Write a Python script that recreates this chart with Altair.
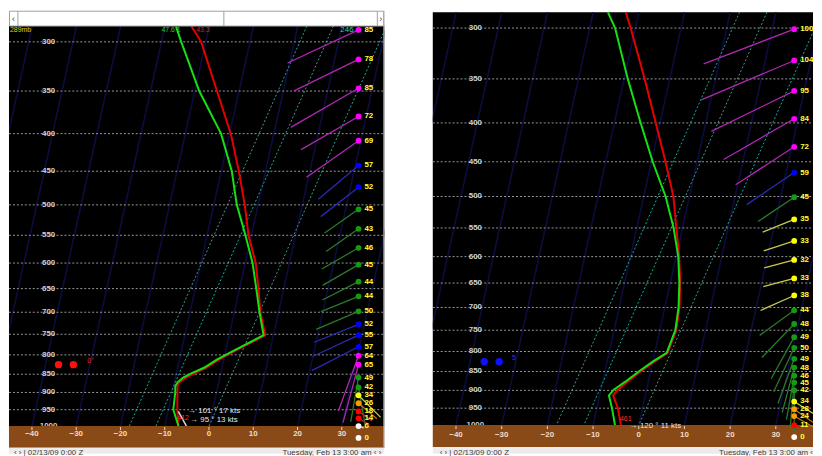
import altair as alt
import pandas as pd

# ---------------- values ----------------
# Left sounding: temperature (red) and dewpoint (green), deg C, at pressure (hPa)
P_PROF_L = [286, 300, 350, 400, 450, 500, 550, 600, 650, 700, 752, 773, 792, 812, 833, 848, 859, 872, 883, 900, 950, 1000]
T_RED_L = [-44.0, -40.3, -31.8, -24.4, -18.8, -14.1, -10.2, -5.8, -2.6, 0.2, 3.6, 0.7, -1.9, -4.4, -6.5, -8.6, -10.0, -11.1, -11.1, -10.5, -8.8, -6.9]
T_GRN_L = [-47.5, -44.8, -35.8, -26.6, -20.4, -15.9, -10.9, -6.5, -3.1, 0.0, 3.2, 0.3, -2.3, -4.9, -7.0, -9.3, -10.7, -11.5, -11.6, -11.0, -9.7, -6.9]
P_PARCEL_L = [955, 1000]
T_PARCEL_L = [-8.4, -5.1]

# Right sounding
P_PROF_R = [286, 300, 350, 400, 450, 500, 550, 600, 650, 700, 750, 803, 825, 850, 876, 898, 914, 950, 1000]
T_RED_R = [-42.9, -40.3, -32.3, -25.6, -19.7, -14.6, -10.9, -7.5, -4.7, -2.5, -1.0, -0.7, -2.7, -4.8, -6.6, -8.0, -8.5, -6.2, -3.9]
T_GRN_R = [-46.8, -43.7, -36.0, -28.9, -22.5, -16.3, -11.5, -7.7, -4.9, -2.7, -1.2, -0.9, -3.1, -5.2, -7.1, -8.9, -9.4, -7.5, -5.2]

# Wind column (pressure hPa, speed kt, direction deg)
P_WIND_L = [289, 317, 347, 379, 409, 442, 473, 507, 539, 572, 603, 636, 666, 698, 727, 752, 780, 802, 825, 859, 886, 908, 931, 955, 976, 1000, 1038]
SPD_L = [85, 78, 85, 72, 69, 57, 52, 45, 43, 46, 45, 44, 44, 50, 52, 55, 57, 64, 65, 49, 42, 34, 26, 18, 14, 6, 0]
DIR_L = [245, 244, 240, 240, 235, 230, 232, 235, 235, 240, 240, 243, 248, 247, 248, 245, 243, 200, 195, 190, 170, 135, 130, 125, 120, 110, 0]

P_WIND_R = [301, 331, 363, 395, 430, 465, 501, 536, 572, 606, 641, 675, 706, 736, 766, 791, 818, 840, 861, 879, 900, 931, 953, 973, 1000, 1037]
SPD_R = [100, 104, 95, 84, 72, 59, 45, 35, 33, 32, 33, 38, 44, 48, 49, 50, 49, 48, 46, 45, 42, 34, 28, 24, 11, 0]
DIR_R = [249, 247, 244, 240, 237, 236, 236, 248, 252, 255, 255, 246, 234, 224, 209, 205, 200, 195, 190, 185, 180, 122, 125, 120, 110, 0]

P_LEVELS = [300, 350, 400, 450, 500, 550, 600, 650, 700, 750, 800, 850, 900, 950, 1000]
T_TICKS = [-40, -30, -20, -10, 0, 10, 20, 30]
T_HILITE = [-18, -12, 0]
T_BGLINES = [-80, -70, -60, -50, -40, -30, -20, -10, 0, 10, 20, 30]

# ---------------- styling ----------------
FONT = "Liberation Sans"
S_ISO = 32.0
S_BG = 16.0
H = 448
NAVY = "#0d0d44"
TEAL = "#22a89c"
GRID = "#9a9a9a"
BROWN = "#8a4a18"
RED = "#e80000"
GREEN = "#14e014"
DOT_COLORS = ["#ffffff", "#ff0000", "#ff9900", "#ffff00", "#139c13", "#0000ff", "#ff00ff"]
LINE_COLORS = ["#d0d0d0", "#c02020", "#c07020", "#c8c850", "#2a7a2a", "#2a2ab4", "#b028b0"]
THRESH = [10, 20, 30, 40, 51, 60]
ONE = alt.Data(values=[{"a": 1}])


def note(txt, x, y, color, size=8, align="left", weight="normal", baseline="middle"):
    return alt.Chart(ONE).mark_text(text=txt, align=align, baseline=baseline, color=color,
                                    fontSize=size, font=FONT, fontWeight=weight).encode(
        x=alt.value(x), y=alt.value(y))


def dot(x, y, color, size=55):
    return alt.Chart(ONE).mark_circle(size=size, color=color, opacity=1).encode(
        x=alt.value(x), y=alt.value(y))


def build(cfg, prof_p, red, grn, wp, ws, wd, extra):
    W = cfg["W"]
    ysc = alt.Scale(type="log", domain=[cfg["p_top"], cfg["p_bot"]], reverse=True, nice=False)
    xsc = alt.Scale(domain=cfg["xdom"], nice=False, zero=False)

    def X(f):
        return alt.X(f, type="quantitative", scale=xsc, axis=None)

    def Y(f):
        return alt.Y(f, type="quantitative", scale=ysc, axis=None)

    layers = []
    # black plotting area
    layers.append(alt.Chart(pd.DataFrame({"a": [cfg["p_black"]], "b": [1000.0]})).mark_rect(color="black").encode(
        x=alt.value(0), x2=alt.value(W), y=Y("a"), y2=alt.Y2("b")))
    # slanted background lines
    rows = [{"t0": t, "p": p} for t in T_BGLINES for p in (cfg["p_black"], 1000.0)]
    layers.append(alt.Chart(pd.DataFrame(rows)).transform_calculate(
        xs=f"datum.t0 + {S_BG}*log(1000/datum.p)").mark_line(color=NAVY, strokeWidth=1.5, clip=True).encode(
        x=X("xs"), y=Y("p"), detail="t0:N", order="p:Q"))
    # highlighted isotherms (dotted)
    rows = [{"t0": t, "p": p} for t in T_HILITE for p in (cfg["p_black"], 1000.0)]
    layers.append(alt.Chart(pd.DataFrame(rows)).transform_calculate(
        xs=f"datum.t0 + {S_ISO}*log(1000/datum.p)").mark_line(color=TEAL, strokeWidth=1, strokeDash=[2, 2], clip=True).encode(
        x=X("xs"), y=Y("p"), detail="t0:N", order="p:Q"))
    # pressure grid
    layers.append(alt.Chart(pd.DataFrame({"p": P_LEVELS[:-1]})).mark_rule(color=GRID, strokeDash=[2, 2], strokeWidth=1).encode(
        x=alt.value(0), x2=alt.value(W), y=Y("p")))
    # pressure labels
    layers.append(alt.Chart(pd.DataFrame({"p": P_LEVELS})).mark_text(color="#cfcfcf", fontSize=8, fontWeight="bold", font=FONT, baseline="middle").encode(
        x=alt.value(cfg["lab_x"]), y=Y("p"), text="p:Q"))

    # profiles
    def prof(p, T, color, width=2):
        return alt.Chart(pd.DataFrame({"p": p, "T": T})).transform_calculate(
            xs=f"datum.T + {S_ISO}*log(1000/datum.p)").mark_line(color=color, strokeWidth=width, clip=True).encode(
            x=X("xs"), y=Y("p"), order="p:Q")
    layers.append(prof(prof_p, red, RED))
    layers.append(prof(prof_p, grn, GREEN))
    if cfg.get("parcel"):
        layers.append(prof(cfg["parcel"][0], cfg["parcel"][1], "#d8d8d8", 1.5))

    # ground band and status bar
    layers.append(alt.Chart(pd.DataFrame({"a": [1000.0], "b": [cfg["p_band"]]})).mark_rect(color=BROWN).encode(
        x=alt.value(0), x2=alt.value(W), y=Y("a"), y2=alt.Y2("b")))
    layers.append(alt.Chart(pd.DataFrame({"a": [cfg["p_band"]], "b": [cfg["p_bot"]]})).mark_rect(color="#ececec").encode(
        x=alt.value(0), x2=alt.value(W), y=Y("a"), y2=alt.Y2("b")))
    # temperature labels inside the ground band
    tdf = pd.DataFrame({"t": T_TICKS})
    layers.append(alt.Chart(tdf).mark_rule(color="#f0d8c0", strokeWidth=1).encode(
        x=X("t"), y=alt.value(cfg["tick_y"]), y2=alt.value(cfg["tick_y"] + 3)))
    layers.append(alt.Chart(tdf).mark_text(color="#f2dcc6", fontSize=8, fontWeight="bold", font=FONT, baseline="middle").encode(
        x=X("t"), y=alt.value(cfg["tlab_y"]), text="t:Q"))

    # wind column
    wdf = pd.DataFrame({"p": wp, "spd": ws, "dir": wd})
    k = cfg["klen"]
    layers.append(alt.Chart(wdf).transform_calculate(sz=f"4*pow({k}*datum.spd, 2)").mark_point(
        shape="M0,0L0,-1", filled=False, opacity=1, strokeWidth=1.3, clip=True).encode(
        x=alt.value(cfg["wx"]), y=Y("p"),
        angle=alt.Angle("dir:Q", scale=None),
        size=alt.Size("sz:Q", scale=None),
        stroke=alt.Stroke("spd:Q", scale=alt.Scale(type="threshold", domain=THRESH, range=LINE_COLORS), legend=None)))
    layers.append(alt.Chart(wdf).mark_circle(size=34, opacity=1).encode(
        x=alt.value(cfg["wx"]), y=Y("p"),
        fill=alt.Fill("spd:Q", scale=alt.Scale(type="threshold", domain=THRESH, range=DOT_COLORS), legend=None)))
    layers.append(alt.Chart(wdf).mark_text(align="left", baseline="middle", dx=6, color="#ffff3c", fontSize=8,
                                           fontWeight="bold", font=FONT).encode(
        x=alt.value(cfg["wx"]), y=Y("p"), text="spd:Q"))

    layers.extend(extra)
    return alt.layer(*layers).properties(width=W, height=H)


LEFT = dict(W=379, xdom=[-45.19, 39.60], p_top=271.7, p_bot=1090.8, p_black=285.5, p_band=1070.6,
            lab_x=40, tick_y=421, tlab_y=428, wx=353, klen=0.93, parcel=(P_PARCEL_L, T_PARCEL_L))
RIGHT = dict(W=384, xdom=[-45.08, 38.14], p_top=284.2, p_bot=1091.0, p_black=285.9, p_band=1068.3,
             lab_x=43, tick_y=420, tlab_y=429, wx=365, klen=0.98)

left_extra = [
    alt.Chart(ONE).mark_rect(fill="white", stroke="#a0a0a0", strokeWidth=1).encode(
        x=alt.value(0.5), x2=alt.value(378.5), y=alt.value(1), y2=alt.value(16)),
    alt.Chart(ONE).mark_rule(color="#a0a0a0").encode(x=alt.value(9), y=alt.value(1), y2=alt.value(16)),
    alt.Chart(ONE).mark_rule(color="#a0a0a0").encode(x=alt.value(217), y=alt.value(1), y2=alt.value(16)),
    alt.Chart(ONE).mark_rule(color="#a0a0a0").encode(x=alt.value(372), y=alt.value(1), y2=alt.value(16)),
    alt.Chart(ONE).mark_rule(color="#a8a8a8").encode(x=alt.value(378.5), y=alt.value(1), y2=alt.value(442)),
    note("‹", 3, 9, "#444444", 9),
    note("›", 374, 9, "#444444", 9),
    note("289mb", 1, 20, "#e0d000", 7),
    note("47.6 1", 154, 20, "#22cc22", 7),
    note("43.3", 189, 20, "#dd2020", 7),
    note("246", 348, 20, "#22d0d0", 8, align="right"),
    dot(50, 358, "#ff1010"),
    dot(65, 358, "#ff1010"),
    note("0°", 79, 354, "#ff2020", 7),
    note("412", 170, 412, "#ff3030", 7),
    note("→  101 ° 17 kts", 181, 405, "#e8e8e8", 8),
    note("→  95 ° 13 kts", 183, 414, "#e8e8e8", 8),
    note("‹  ›  |  02/13/09    0:00 Z", 5, 443, "#404040", 8, baseline="top"),
    note("Tuesday,  Feb 13  3:00 am  ‹  ›", 376, 443, "#404040", 8, align="right", baseline="top"),
]
right_extra = [
    dot(52, 355, "#1010ff"),
    dot(67, 355, "#1010ff"),
    note("5", 80, 351, "#3030ff", 7),
    note("461", 189, 413, "#ff3030", 7),
    note("→  120 ° 11 kts", 199, 420, "#e8e8e8", 8),
    note("‹  ›  |  02/13/09    0:00 Z", 7, 443, "#404040", 8, baseline="top"),
    note("Tuesday,  Feb 13  3:00 am  ‹", 384, 443, "#404040", 8, align="right", baseline="top"),
]

left = build(LEFT, P_PROF_L, T_RED_L, T_GRN_L, P_WIND_L, SPD_L, DIR_L, left_extra)
right = build(RIGHT, P_PROF_R, T_RED_R, T_GRN_R, P_WIND_R, SPD_R, DIR_R, right_extra)

chart = alt.hconcat(left, right, spacing=47).resolve_scale(
    x="independent", y="independent").properties(padding=0, background="white").configure_view(strokeWidth=0)

chart.save("out.html", embed_options={"renderer": "svg", "actions": False})
